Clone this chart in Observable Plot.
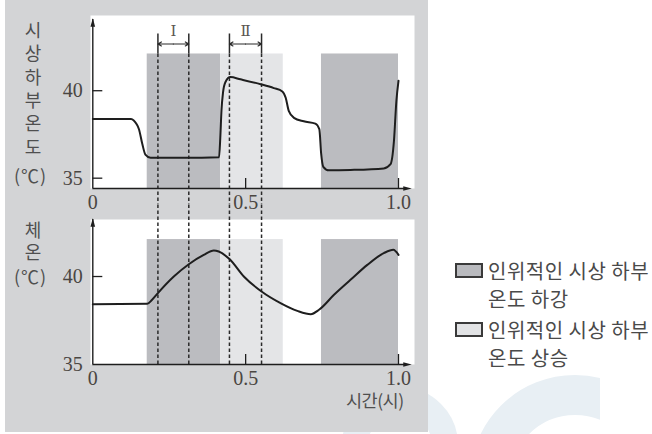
<!DOCTYPE html>
<html>
<head>
<meta charset="utf-8">
<script src="https://cdn.jsdelivr.net/npm/d3@7"></script>
<script src="https://cdn.jsdelivr.net/npm/@observablehq/plot@0.6"></script>
<style>
  body { margin: 0; background: #fff; }
  #wrap { position: relative; width: 652px; height: 434px; overflow: hidden; font-family: "Noto Sans CJK KR", sans-serif; }
  .wm { position: absolute; border-radius: 50%; box-sizing: border-box; border-style: solid; border-color: #e8eff4; }
  #bg { position: absolute; left: 5px; top: 0; width: 423px; height: 432px; background: #d3d4d6; }
  .panel { position: absolute; left: 0; }
  .vt { position: absolute; left: 24px; color: #4f4f4f; font-size: 18px; line-height: 18px; writing-mode: vertical-rl; text-orientation: upright; white-space: nowrap; }
  .deg { position: absolute; left: 14px; color: #4f4f4f; font-size: 18px; line-height: 18px; height: 18px; letter-spacing: 1px; }
  .xl { position: absolute; color: #4f4f4f; font-size: 17.5px; line-height: 18px; height: 18px; letter-spacing: -0.5px; white-space: nowrap; }
  .leg { position: absolute; color: #4a4a4a; font-size: 20px; line-height: 20px; height: 20px; letter-spacing: 0.5px; white-space: nowrap; }
  .sw { position: absolute; width: 28px; height: 15px; box-sizing: border-box; border: 2px solid #3a3a3a; }
</style>
</head>
<body>
<div id="wrap">
  <div class="wm" style="left:470px;top:375px;width:210px;height:210px;border-width:40px;clip-path:inset(0 80px 0 0);"></div>
  <div class="wm" style="left:342px;top:387px;width:116px;height:116px;border-width:26px;"></div>
  <div id="bg"></div>
  <div id="top" class="panel" style="top:0"></div>
  <div id="bot" class="panel" style="top:204px"></div>

  <div class="vt" style="top:21px;letter-spacing:5.4px;">시상하부온도</div>
  <div class="deg" style="top:166px;">(℃)</div>
  <div class="vt" style="top:221px;letter-spacing:4px;">체온</div>
  <div class="deg" style="top:267px;">(℃)</div>
  <div class="xl" style="left:346px;top:391px;">시간(시)</div>

  <div class="sw" style="left:455px;top:263px;background:#b9babe;"></div>
  <div class="leg" style="left:488px;top:261px;">인위적인 시상 하부</div>
  <div class="leg" style="left:488px;top:289px;">온도 하강</div>
  <div class="sw" style="left:455px;top:322px;background:#e2e3e5;"></div>
  <div class="leg" style="left:488px;top:320px;">인위적인 시상 하부</div>
  <div class="leg" style="left:488px;top:348px;">온도 상승</div>
</div>
<script>
// ---- data ----
const hypoTime = [0, 0.125, 0.134, 0.143, 0.151, 0.162, 0.172, 0.189, 0.3, 0.413, 0.417, 0.421, 0.426, 0.434, 0.45, 0.483, 0.549, 0.592, 0.62, 0.631, 0.641, 0.658, 0.69, 0.728, 0.741, 0.747, 0.754, 0.772, 0.843, 0.952, 0.974, 0.985, 0.993, 1.0];
const hypoTemp = [38.38, 38.38, 38.3, 38.1, 37.8, 36.95, 36.35, 36.17, 36.17, 36.2, 37.3, 38.9, 39.9, 40.5, 40.78, 40.65, 40.37, 40.15, 39.96, 39.6, 38.85, 38.45, 38.25, 38.12, 37.8, 36.4, 35.65, 35.45, 35.47, 35.56, 35.8, 37.1, 39.4, 40.57];

const bodyTime = [0, 0.178, 0.194, 0.213, 0.265, 0.314, 0.363, 0.396, 0.412, 0.447, 0.494, 0.552, 0.614, 0.669, 0.713, 0.740, 0.789, 0.843, 0.898, 0.952, 0.983, 1.0];
const bodyTemp = [38.43, 38.45, 38.68, 39.06, 40.0, 40.7, 41.23, 41.48, 41.42, 40.99, 40.0, 39.15, 38.49, 38.05, 37.86, 38.11, 38.96, 39.81, 40.66, 41.33, 41.52, 41.23];

const periodStart = [0.178, 0.418, 0.748];
const periodEnd = [0.418, 0.623, 1.0];
const periodType = ["하강", "상승", "하강"];
const periodTop = 42.1;

const markerTimes = [0.213, 0.314, 0.447, 0.552];
const intervalLabels = ["Ⅰ", "Ⅱ"];

const topYTicks = [35, 40];
const botYTicks = [40];
const botYLabels = [35, 40];
const xTickValues = [0, 0.5, 1];
const xTickLabels = ["0", "0.5", "1.0"];
const xMinorTicks = [0.5, 1];

// ---- tables ----
const hypo = hypoTime.map((t, i) => ({t, v: hypoTemp[i]}));
const body = bodyTime.map((t, i) => ({t, v: bodyTemp[i]}));
const periods = periodStart.map((s, i) => ({start: s, end: periodEnd[i], type: periodType[i]}));
const intervals = intervalLabels.map((label, i) => ({a: markerTimes[2 * i], b: markerTimes[2 * i + 1], label}));
const arrows = intervals.flatMap(d => [{x1: (d.a + d.b) / 2, x2: d.a}, {x1: (d.a + d.b) / 2, x2: d.b}]);

// ---- style ----
const ink = "#1e1e1e";
const numColor = "#4a4642";
const darkFill = "#bbbcc0";
const lightFill = "#e4e5e7";
const numFont = "Liberation Serif, serif";
const W = 430;
const xRange = [92.3, 398];

// arrowhead symbols (d3 symbol-type interface)
const headRight = {draw(ctx, size) { const r = Math.sqrt(size) * 0.6; ctx.moveTo(r, 0); ctx.lineTo(-r, -r * 0.55); ctx.lineTo(-r, r * 0.55); ctx.closePath(); }};
const headUp = {draw(ctx, size) { const r = Math.sqrt(size) * 0.6; ctx.moveTo(0, -r); ctx.lineTo(-r * 0.55, r); ctx.lineTo(r * 0.55, r); ctx.closePath(); }};

function panel({height, marginTop, marginBottom, yDomain, curveData, yTicks, yLabels, top}) {
  const [y0, y1] = yDomain;
  const pxPerUnit = (height - marginTop - marginBottom) / (y1 - y0);
  const u = px => px / pxPerUnit;
  const ux = px => px / (xRange[1] - xRange[0]);
  const yAbove = y0 + u(height - marginBottom);
  const yBelow = y0 - u(marginBottom);
  const yTip = y1 - u(top ? 7 : 3);
  const xTip = 1 + ux(9);
  const marks = [
    Plot.frame({fill: "white", stroke: null}),
    Plot.rect(periods, {x1: "start", x2: "end", y1: y0, y2: periodTop, fill: d => d.type === "하강" ? darkFill : lightFill}),
    Plot.ruleX(markerTimes, {y1: top ? periodTop : y0, y2: top ? yBelow : yAbove, stroke: "#2a2a2a", strokeWidth: 1.5, strokeDasharray: "3.5,2.5"}),
    Plot.line(curveData, {x: "t", y: "v", curve: "monotone-x", stroke: ink, strokeWidth: 2}),
    Plot.ruleY([y0], {x1: 0, x2: xTip - ux(3), stroke: ink, strokeWidth: 1.4}),
    Plot.dot([y0], {x: xTip, y: d => d, symbol: headRight, r: 4, fill: ink, stroke: null}),
    Plot.ruleX([0], {y1: y0, y2: yTip - u(-3), stroke: ink, strokeWidth: 1.4}),
    Plot.dot([0], {x: d => d, y: yTip, symbol: headUp, r: 4, fill: ink, stroke: null}),
    Plot.ruleY(yTicks, {x1: 0, x2: ux(10), stroke: ink, strokeWidth: 1.3}),
    Plot.ruleX(xMinorTicks, {y1: y0, y2: y0 + u(10), stroke: ink, strokeWidth: 1.3}),
    Plot.text(yLabels, {x: 0, y: d => d, text: d => String(d), dx: -10, textAnchor: "end", fontSize: 20, fontFamily: numFont, fill: numColor}),
    Plot.text(xTickValues, {x: d => d, y: y0, text: (d, i) => xTickLabels[i], dy: 14, fontSize: 20, fontFamily: numFont, fill: numColor})
  ];
  if (top) {
    marks.push(
      Plot.ruleX(markerTimes, {y1: periodTop, y2: periodTop + u(20), stroke: "#2a2a2a", strokeWidth: 1.5}),
      Plot.arrow(arrows, {x1: "x1", x2: "x2", y1: periodTop + u(10), y2: periodTop + u(10), headLength: 5, stroke: "#2a2a2a", strokeWidth: 1.2}),
      Plot.text(intervals, {x: d => (d.a + d.b) / 2, y: periodTop + u(23), text: "label", fontSize: 15, fontFamily: "DejaVu Serif, serif", fill: "#5a5550"})
    );
  }
  return Plot.plot({
    width: W, height, marginLeft: 90, marginRight: W - 414, marginTop, marginBottom,
    style: {background: "transparent", overflow: "visible"},
    x: {domain: [0, 1], range: xRange, axis: null},
    y: {domain: yDomain, axis: null},
    color: {type: "identity"},
    marks
  });
}

document.getElementById("top").append(panel({
  height: 204, marginTop: 15, marginBottom: 16, yDomain: [34.41, 44.3],
  curveData: hypo, yTicks: topYTicks, yLabels: topYTicks, top: true
}));
document.getElementById("bot").append(panel({
  height: 230, marginTop: 15, marginBottom: 70, yDomain: [35, 43.24],
  curveData: body, yTicks: botYTicks, yLabels: botYLabels, top: false
}));
</script>
</body>
</html>
